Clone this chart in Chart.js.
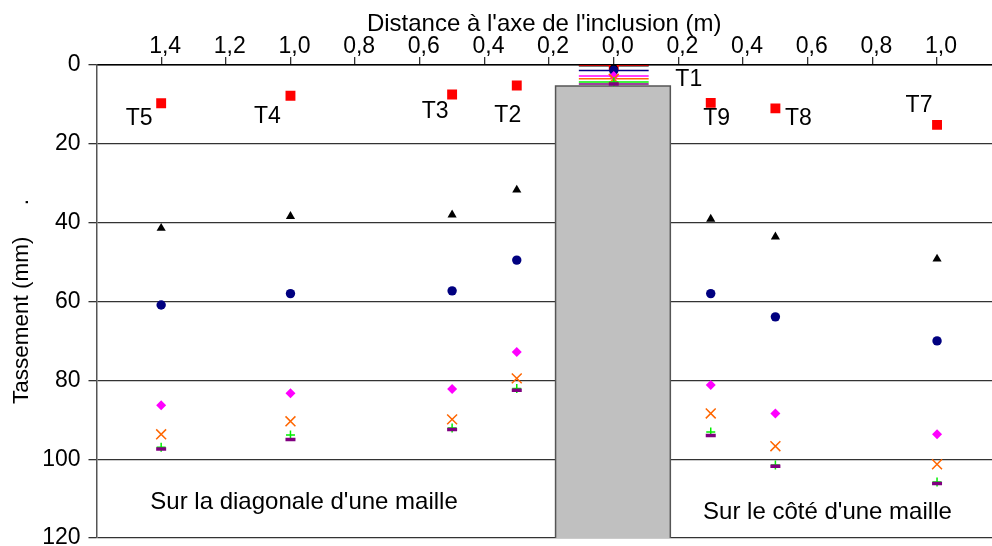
<!DOCTYPE html>
<html>
<head>
<meta charset="utf-8">
<script src="https://cdn.jsdelivr.net/npm/chart.js@4/dist/chart.umd.min.js"></script>
<style>
  html, body { margin: 0; padding: 0; background: #fff; }
  #wrap { width: 992px; height: 546px; }
</style>
</head>
<body>
<div id="wrap"><canvas id="chart" width="992" height="546"></canvas></div>
<script>
// probes (tassomètres) and their distance to the inclusion axis (m, negative = diagonal side)
const probeNames = ['T5', 'T4', 'T3', 'T2', 'T1', 'T9', 'T8', 'T7'];
const probeX = [-1.4, -1.0, -0.5, -0.3, 0, 0.3, 0.5, 1.0];
const xTickValues = [-1.4, -1.2, -1.0, -0.8, -0.6, -0.4, -0.2, 0, 0.2, 0.4, 0.6, 0.8, 1.0];
const yTickValues = [0, 20, 40, 60, 80, 100, 120];

// settlements in mm, one array per measurement stage
const stage1 = [9.7, 7.8, 7.5, 5.2, 0, 9.6, 11.0, 15.2];
const stage2 = [41.4, 38.4, 38.0, 31.7, 0.2, 39.1, 43.6, 49.2];
const stage3 = [60.9, 58.0, 57.3, 49.5, 1.4, 58.0, 63.9, 70.0];
const stage4 = [86.3, 83.3, 82.2, 72.8, 2.8, 81.2, 88.4, 93.7];
const stage5 = [93.7, 90.4, 89.9, 79.5, 3.5, 88.4, 96.7, 101.3];
const stage6 = [97.0, 93.9, 92.1, 82.1, 4.3, 93.1, 101.5, 105.8];
const stage7 = [97.4, 95.0, 92.5, 82.5, 4.8, 94.0, 101.8, 106.2];

// inclusion (rigid pile) drawn as a grey block
const inclusionLeft = -0.18;
const inclusionRight = 0.175;
const inclusionTop = 5.3;
const inclusionBottom = 120;
const t1HalfWidth = 0.108;

// free text
const regionLabels = ["Sur la diagonale d'une maille", "Sur le côté d'une maille"];
const regionX = [-0.958, 0.661];
const regionY = [110.9, 113.5];

// pixel offsets of the probe names from the top (red) marker
const probeLabelOffsets = [[-22, 15], [-23, 21], [-17, 17], [-9, 30], [75, 15], [6, 16], [23, 10], [-18, -19]];

const FONT = "'Liberation Sans', Arial, sans-serif";
Chart.defaults.font.family = FONT;
Chart.defaults.font.size = 23;
Chart.defaults.color = '#000';

const stageStyles = [
  { data: stage1, color: '#ff0000', style: 'rect', r: 7, fill: true, bw: 0 },
  { data: stage2, color: '#000000', style: 'triangle', r: 5.3, fill: true, bw: 0 },
  { data: stage3, color: '#000080', style: 'circle', r: 4.7, fill: true, bw: 0 },
  { data: stage4, color: '#ff00ff', style: 'rectRot', r: 5, fill: true, bw: 0 },
  { data: stage5, color: '#ff6600', style: 'crossRot', r: 7, fill: false, bw: 1.5 },
  { data: stage6, color: '#00ee00', style: 'cross', r: 4.5, fill: false, bw: 1.5 },
  { data: stage7, color: '#800080', style: 'line', r: 5, fill: false, bw: 3.5 }
];

const datasets = [];

datasets.push({
  label: 'inclusion',
  data: [
    { x: inclusionLeft, y: inclusionBottom },
    { x: inclusionLeft, y: inclusionTop },
    { x: inclusionRight, y: inclusionTop },
    { x: inclusionRight, y: inclusionBottom }
  ],
  showLine: true,
  borderColor: '#555',
  borderWidth: 1.5,
  backgroundColor: '#c0c0c0',
  fill: { value: inclusionBottom },
  pointRadius: 0,
  order: 20
});

// short horizontal bars on T1 for each stage
stageStyles.forEach((s, i) => {
  const v = s.data[probeNames.indexOf('T1')];
  datasets.push({
    label: 'T1 bar ' + i,
    data: [{ x: -t1HalfWidth, y: v }, { x: t1HalfWidth, y: v }],
    showLine: true,
    borderColor: s.color,
    borderWidth: 1.5,
    pointRadius: 0,
    order: 15
  });
});

datasets.push({
  label: 'T1 rod',
  data: [{ x: 0, y: 0 }, { x: 0, y: inclusionTop }],
  showLine: true,
  borderColor: '#333',
  borderWidth: 1.5,
  pointRadius: 0,
  order: 14
});

stageStyles.forEach((s, i) => {
  datasets.push({
    label: 'stage ' + (i + 1),
    data: probeX.map((x, k) => ({ x: x, y: s.data[k] })),
    showLine: false,
    pointStyle: s.style,
    pointRadius: s.r,
    pointBackgroundColor: s.fill ? s.color : 'transparent',
    pointBorderColor: s.color,
    pointBorderWidth: s.bw,
    order: 10 - i
  });
});

const textPlugin = {
  id: 'texts',
  afterDatasetsDraw(chart) {
    const ctx = chart.ctx;
    const xs = chart.scales.x, ys = chart.scales.y;
    ctx.save();
    ctx.fillStyle = '#000';
    ctx.font = '23px ' + FONT;
    ctx.textAlign = 'center';
    ctx.textBaseline = 'middle';
    probeNames.forEach((name, k) => {
      const px = xs.getPixelForValue(probeX[k]);
      const py = ys.getPixelForValue(stage1[k]);
      ctx.fillText(name, px + probeLabelOffsets[k][0], py + probeLabelOffsets[k][1]);
    });
    ctx.font = '24px ' + FONT;
    regionLabels.forEach((t, k) => {
      ctx.fillText(t, xs.getPixelForValue(regionX[k]), ys.getPixelForValue(regionY[k]));
    });
    ctx.restore();
  }
};

new Chart(document.getElementById('chart').getContext('2d'), {
  type: 'scatter',
  data: { datasets: datasets },
  options: {
    responsive: false,
    devicePixelRatio: 1,
    animation: false,
    layout: { autoPadding: false, padding: { left: 0, right: 0, top: 0, bottom: 8 } },
    plugins: { legend: { display: false }, tooltip: { enabled: false } },
    scales: {
      x: {
        type: 'linear',
        position: 'top',
        min: -1.6,
        max: 1.17,
        afterFit: (scale) => {
          scale.height = 65;
          scale.paddingLeft = 0;
          scale.paddingRight = 0;
        },
        afterBuildTicks: (scale) => {
          scale.ticks = xTickValues.map(v => ({ value: v }));
        },
        ticks: {
          padding: -3,
          labelOffset: 4,
          maxRotation: 0,
          autoSkip: false,
          callback: (v) => Math.abs(v).toFixed(1).replace('.', ',')
        },
        grid: { drawOnChartArea: false, drawTicks: true, tickLength: 8, color: '#333', lineWidth: 1.3 },
        border: { display: true, color: '#000', width: 1.5 },
        title: {
          display: true,
          text: "Distance à l'axe de l'inclusion (m)",
          font: { size: 24 },
          padding: { top: 10, bottom: 0 }
        }
      },
      y: {
        type: 'linear',
        reverse: true,
        min: 0,
        max: 120,
        afterFit: (scale) => {
          scale.width = 96.5;
          scale.paddingTop = 0;
          scale.paddingBottom = 0;
        },
        afterBuildTicks: (scale) => {
          scale.ticks = yTickValues.map(v => ({ value: v }));
        },
        ticks: { padding: 8 },
        grid: { color: '#333', lineWidth: 1.3, tickLength: 8 },
        border: { display: true, color: '#555', width: 1.5 },
        title: {
          display: true,
          text: 'Tassement (mm)     .',
          font: { size: 22.5 },
          padding: { top: 8, bottom: 0 }
        }
      }
    }
  },
  plugins: [textPlugin]
});
</script>
</body>
</html>
